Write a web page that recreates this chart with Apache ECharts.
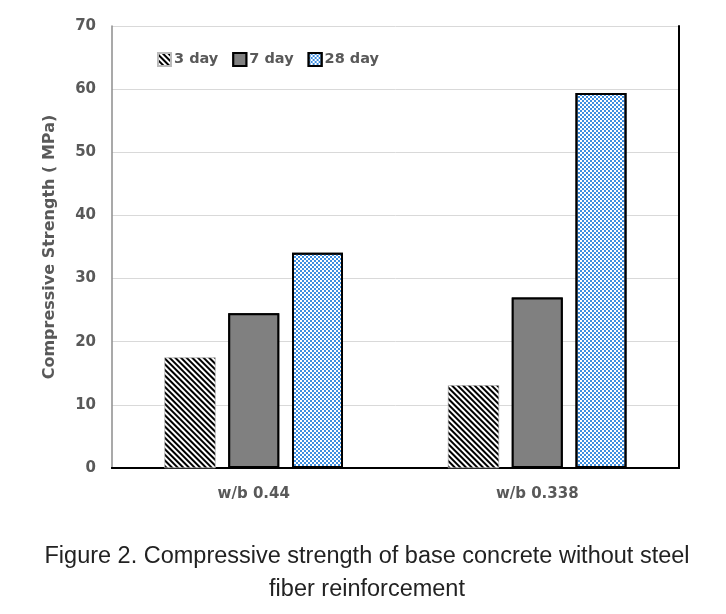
<!DOCTYPE html>
<html>
<head>
<meta charset="utf-8">
<script src="https://cdn.jsdelivr.net/npm/echarts@6/dist/echarts.min.js"></script>
<style>html,body{margin:0;padding:0;background:#fff;}#c{width:726px;height:614px;}</style>
</head>
<body>
<div id="c"></div>
<script>
const categories = ['w/b 0.44', 'w/b 0.338'];
const seriesNames = ['3 day', '7 day', '28 day'];
const day3 = [17.5, 13.1];
const day7 = [24.5, 27.0];
const day28 = [34.1, 59.4];
const yTicks = [0, 10, 20, 30, 40, 50, 60, 70];
const captionLines = ['Figure 2. Compressive strength of base concrete without steel', 'fiber reinforcement'];

const font = 'DejaVu Sans';
const txt = '#595959';
const capFont = '23px "Liberation Sans"';
const ctx = document.createElement('canvas').getContext('2d');
ctx.font = capFont;
const capW = ctx.measureText(captionLines[0]).width;
const capScale = 645 / capW;

const chart = echarts.init(document.getElementById('c'), null, {renderer: 'canvas'});
chart.setOption({
  backgroundColor: '#fff',
  animation: false,
  aria: {enabled: true, decal: {show: true}},
  graphic: captionLines.map((t, i) => ({
    type: 'text', x: 367, y: 557 + i * 33, scaleX: capScale,
    style: {text: t, font: capFont, fill: '#222', textAlign: 'center', textVerticalAlign: 'middle'}
  })),
  legend: {
    left: 152, top: 47,
    itemWidth: 13, itemHeight: 13, itemGap: 14,
    icon: 'rect',
    textStyle: {fontFamily: font, fontSize: 14.5, fontWeight: 'bold', color: txt, padding: [0, 0, 0, -2]},
    data: seriesNames
  },
  grid: {left: 112, right: 47, top: 26, bottom: 146},
  xAxis: [{
    type: 'category', data: categories,
    axisLine: {lineStyle: {color: '#000', width: 2}},
    axisTick: {show: false},
    axisLabel: {fontFamily: font, fontSize: 15, fontWeight: 'bold', color: txt, margin: 19}
  }, {
    type: 'category', data: categories, position: 'top',
    axisLine: {lineStyle: {color: '#000', width: 2}},
    axisTick: {show: false}, axisLabel: {show: false}
  }],
  yAxis: [{
    type: 'value', min: yTicks[0], max: yTicks[yTicks.length - 1], interval: 10,
    name: 'Compressive Strength ( MPa)', nameLocation: 'middle', nameGap: 54,
    nameTextStyle: {fontFamily: font, fontSize: 16, fontWeight: 'bold', color: txt},
    axisLine: {show: true, lineStyle: {color: '#8c8c8c', width: 1.5}},
    axisTick: {show: false},
    axisLabel: {fontFamily: font, fontSize: 15, fontWeight: 'bold', color: txt, margin: 16},
    splitLine: {lineStyle: {color: '#d9d9d9', width: 1}}
  }, {
    type: 'value', min: yTicks[0], max: yTicks[yTicks.length - 1], interval: 10, position: 'right',
    axisLine: {show: true, lineStyle: {color: '#000', width: 2}},
    axisTick: {show: false}, axisLabel: {show: false}, splitLine: {show: false}
  }],
  series: [{
    name: seriesNames[0], type: 'bar', data: day3, barWidth: 51, barGap: '25%',
    itemStyle: {color: '#fff', borderColor: '#bbb', borderWidth: 0.5,
      decal: {symbol: 'rect', symbolSize: 1, color: '#000', dashArrayX: [1, 0], dashArrayY: [1.4, 1.3], rotation: Math.PI / 4}}
  }, {
    name: seriesNames[1], type: 'bar', data: day7, barWidth: 51, barGap: '25%',
    itemStyle: {color: '#808080', borderColor: '#000', borderWidth: 2,
      decal: {symbol: 'rect', symbolSize: 1, color: '#808080', dashArrayX: [1, 0], dashArrayY: [1, 0]}}
  }, {
    name: seriesNames[2], type: 'bar', data: day28, barWidth: 51, barGap: '25%',
    itemStyle: {color: '#fff', borderColor: '#000', borderWidth: 2,
      decal: {symbol: 'rect', symbolSize: 1, color: '#3f8fe0', dashArrayX: [[2, 2], [0, 2, 2, 0]], dashArrayY: [2, 0], rotation: 0}}
  }]
});
</script>
</body>
</html>
